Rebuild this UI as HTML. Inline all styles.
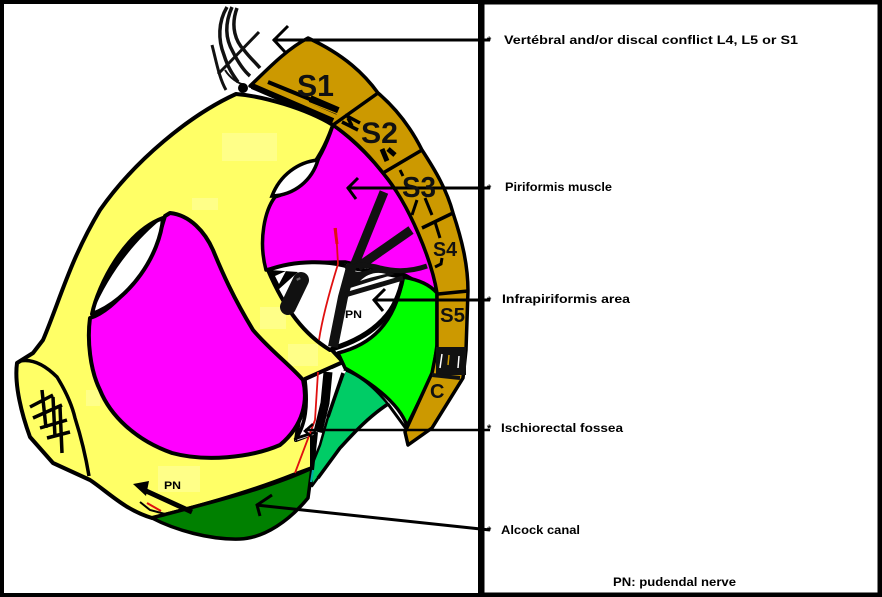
<!DOCTYPE html>
<html><head><meta charset="utf-8"><style>
html,body{margin:0;padding:0;background:#fff}
svg{display:block}
.t{font-family:"Liberation Sans",sans-serif;font-weight:bold;font-size:11.5px;fill:#000}
.s{font-family:"Liberation Sans",sans-serif;font-weight:bold;fill:#111}
</style></head><body>
<svg width="882" height="597" viewBox="0 0 882 597" xmlns="http://www.w3.org/2000/svg">
<rect width="882" height="597" fill="#fff"/>

<!-- yellow hip bone -->
<path d="M236,94 C262,96 305,108 333,125 C326,145 318,160 305,175 C285,190 268,205 265,232 C262,262 285,300 330,348 L343,362 L305,379 L296,440 L312,434 L312,468 L293,475 C250,492 205,505 152,518 C125,510 108,492 90,480 L53,463 L30,437 C22,415 14,385 17,363 L33,353 L43,340 C60,300 70,260 100,210 C135,160 190,115 236,94 Z" fill="#ffff66" stroke="#000" stroke-width="4" stroke-linejoin="round"/>
<g fill="#ffff88">
<rect x="222" y="133" width="55" height="28"/><rect x="192" y="198" width="26" height="12"/>
<rect x="260" y="307" width="26" height="22"/><rect x="288" y="344" width="30" height="22"/>
<rect x="158" y="466" width="42" height="26"/><rect x="86" y="390" width="14" height="16"/>
</g>

<!-- lobe -->
<path d="M20,361 C35,358 48,368 57,377 C65,390 72,405 75,418 C82,440 86,458 89,476" fill="none" stroke="#000" stroke-width="3.5"/>
<g stroke="#000" stroke-width="3.5" fill="none">
<path d="M30,407 L53,395 M33,418 L62,405 M40,428 L67,420 M47,438 L70,432 M42,390 L46,428 M53,397 L55,437 M60,407 L62,453"/>
</g>

<!-- obturator magenta -->
<path d="M170,213 C190,215 205,232 213,250 C222,272 233,297 253,330 C270,350 290,365 303,380 C308,400 304,425 280,445 C250,458 205,462 172,453 C135,440 110,415 100,390 C90,370 87,340 90,318 C115,310 150,270 165,216 Z" fill="#ff00ff" stroke="#000" stroke-width="4" stroke-linejoin="round"/>
<path d="M92,314 C98,285 125,232 163,218 C160,255 130,300 92,314 Z" fill="#fff" stroke="#000" stroke-width="4" stroke-linejoin="round"/>
<path d="M93,312 C100,280 130,230 163,218 C135,240 108,275 93,312 Z" fill="#000"/>

<!-- piriformis magenta -->
<path d="M333,125 C375,155 425,215 437,293 L405,275 L345,262 C315,262 285,265 266,270 C258,240 265,210 275,197 C300,190 320,165 333,125 Z" fill="#ff00ff" stroke="#000" stroke-width="3.5" stroke-linejoin="round"/>
<path d="M272,196 C280,175 298,162 318,160 C312,180 295,195 272,196 Z" fill="#fff" stroke="#000" stroke-width="3.5"/>

<!-- white infrapiriformis -->
<path d="M268,270 C295,260 330,260 352,268 L403,277 C398,310 375,335 333,348 L330,350 C305,335 285,310 268,270 Z" fill="#fff" stroke="#000" stroke-width="4" stroke-linejoin="round"/>
<path d="M270,270 L278,290 L298,272 Z" fill="#000"/>
<path d="M275,276 L286,271 L279,284 Z" fill="#fff"/>
<path d="M301,280 L288,307" stroke="#111" stroke-width="16" stroke-linecap="round"/>
<path d="M298,278 L299,280" stroke="#666" stroke-width="4"/>

<!-- green -->
<path d="M403,277 C420,280 430,285 437,293 L437,345 L433,373 L407,426 C400,405 375,385 345,368 L338,353 C370,345 395,325 403,277 Z" fill="#00ff00" stroke="#000" stroke-width="3.5" stroke-linejoin="round"/>
<path d="M333,349 C368,338 395,320 403,277" fill="none" stroke="#000" stroke-width="4.5"/>

<!-- teal -->
<path d="M345,370 C365,378 378,392 388,404 C367,418 352,435 340,448 L312,486 L310,470 L320,445 L328,417 Z" fill="#00cc66" stroke="#000" stroke-width="2.5" stroke-linejoin="round"/>
<path d="M388,404 L407,430" stroke="#000" stroke-width="3"/>
<path d="M388,404 C367,418 352,435 340,448 L318,478" fill="none" stroke="#000" stroke-width="3.5"/>

<!-- white strip -->
<path d="M306,381 L332,369 L346,371 L326,412 L316,434 L295,441 C303,425 309,405 306,381 Z" fill="#fff"/>
<path d="M305,380 C308,405 306,425 295,440" fill="none" stroke="#000" stroke-width="3.5"/>
<path d="M328,372 L325,403 L318,432" stroke="#000" stroke-width="9" fill="none"/>
<path d="M343,373 L328,417" stroke="#000" stroke-width="3.5" fill="none"/>
<path d="M297,438 L316,432" stroke="#000" stroke-width="3"/>
<path d="M316,432 L312,470" stroke="#000" stroke-width="4"/>

<!-- dark green -->
<path d="M152,518 C200,505 265,490 312,468 L308,498 C290,520 265,538 240,539 C210,540 175,530 152,518 Z" fill="#008000" stroke="#000" stroke-width="3.5" stroke-linejoin="round"/>
<path d="M313,470 L311,482" stroke="#00aaaa" stroke-width="2"/>

<!-- sacrum -->
<path d="M308,38 C345,55 365,75 378,93 C398,110 412,130 422,150 C435,170 447,190 453,213 C462,240 468,265 468,291 L466,350 L463,378 L432,428 L408,445 L405,432 L432,373 L437,348 L437,293 C432,262 410,205 383,173 C365,150 350,137 333,125 C310,110 280,95 250,86 C265,72 285,50 308,38 Z" fill="#cc9900" stroke="#000" stroke-width="3.5" stroke-linejoin="round"/>
<path d="M378,93 L333,125 M422,150 L383,173 M453,213 L422,228 M468,291 L438,294" stroke="#000" stroke-width="3.5" fill="none"/>
<rect x="436" y="347" width="30" height="28" fill="#111"/>
<path d="M442,354 L440,368 M459,356 L458,368" stroke="#fff" stroke-width="1.5"/>
<path d="M449,355 L448,365" stroke="#cc9900" stroke-width="1.5"/>
<path d="M432,375 L460,378" stroke="#111" stroke-width="4"/>

<!-- S1 bars -->
<path d="M268,82 L312,100" stroke="#000" stroke-width="4"/>
<path d="M310,99 L338,111" stroke="#000" stroke-width="8"/>
<path d="M252,86 L333,121" stroke="#000" stroke-width="6"/>
<path d="M262,84 L338,114" stroke="#cc9900" stroke-width="1"/>
<path d="M345,115 L360,123 M342,122 L358,130 M348,118 L352,126 M352,127 L358,130" stroke="#000" stroke-width="3.5"/>
<path d="M382,149 L387,161 M388,149 L395,155" stroke="#000" stroke-width="5"/>
<path d="M400,170 L403,176 M417,200 L412,215 M425,198 L432,215 M435,222 L440,238 M442,258 L441,264 L435,267" stroke="#000" stroke-width="3" fill="none"/>

<!-- nerve roots -->
<g fill="none" stroke="#111" stroke-width="3.5">
<path d="M227,7 C218,22 218,40 224,55 C228,68 233,75 238,82"/>
<path d="M232,7 C224,25 226,40 233,52 C238,62 243,70 250,76"/>
<path d="M237,8 C230,27 236,42 244,50 C250,58 255,62 260,68"/>
<path d="M259,32 L228,64 L218,74" stroke-width="3"/>
<path d="M212,45 C216,60 219,78 226,90" stroke-width="3"/>
<path d="M225,70 C230,78 238,84 246,85" stroke-width="2"/>
</g>
<circle cx="243" cy="88" r="5" fill="#000"/>

<!-- black nerve trunks -->
<g stroke="#111" stroke-linecap="butt" fill="none">
<path d="M384,192 L354,266" stroke-width="9"/>
<path d="M411,230 L358,267" stroke-width="9"/>
<path d="M427,266 C410,272 395,272 380,268 C370,265 358,264 345,268" stroke-width="5"/>
<path d="M352,264 L343,297 L333,347" stroke-width="10"/>
<path d="M345,295 L403,278" stroke-width="5"/>
</g>
<path d="M345,270 L360,272 L378,268 L395,274 L350,288 Z" fill="#111"/>
<path d="M360,281 C367,274 376,271 386,274 C377,276 368,278 360,281 Z" fill="#fff"/>

<!-- red nerve -->
<path d="M336,228 L338,264 C330,290 322,320 319,340 M318,372 L315,420 L295,473" fill="none" stroke="#e01010" stroke-width="1.8"/>
<path d="M335,228 L337,244" stroke="#e01010" stroke-width="3"/>
<path d="M147,503 L161,511" stroke="#e01010" stroke-width="2"/>

<!-- PN arrow bottom -->
<path d="M133,484 L149,481 L146,496 Z" fill="#000"/>
<path d="M144,490 L192,512" stroke="#000" stroke-width="5"/>
<path d="M140,502 L150,510 L165,514" stroke="#000" stroke-width="2" fill="none"/>

<!-- leader arrows -->
<g fill="none" stroke="#000" stroke-width="3">
<path d="M273,40 L490,40 M288,26 L274,40 L285,52"/>
<path d="M347,188 L490,188 M358,178 L348,188 L356,199"/>
<path d="M373,300 L490,300 M385,289 L374,300 L383,311"/>
<path d="M305,430 L490,430 M313,424 L305,431 L313,438" stroke-width="2.5"/>
<path d="M256,505 L490,530 M272,495 L257,505 L260,516"/>
</g>
<g font-family="Liberation Sans, sans-serif" font-weight="bold" font-size="11" fill="#000">
<text x="487" y="44">*</text><text x="487" y="192">*</text><text x="487" y="304">*</text><text x="487" y="432">*</text><text x="487" y="534">*</text>
</g>

<!-- S labels -->
<text class="s" x="297" y="96" font-size="31" textLength="37" lengthAdjust="spacingAndGlyphs">S1</text>
<text class="s" x="361" y="143" font-size="30" textLength="37" lengthAdjust="spacingAndGlyphs">S2</text>
<text class="s" x="402" y="197" font-size="29" textLength="34" lengthAdjust="spacingAndGlyphs">S3</text>
<text class="s" x="433" y="256" font-size="20" textLength="24" lengthAdjust="spacingAndGlyphs">S4</text>
<text class="s" x="440" y="322" font-size="20" textLength="25" lengthAdjust="spacingAndGlyphs">S5</text>
<text class="s" x="430" y="398" font-size="20">C</text>
<text x="345" y="318" font-family="Liberation Sans, sans-serif" font-size="11" font-weight="bold" textLength="17" lengthAdjust="spacingAndGlyphs">PN</text>
<text x="164" y="489" font-family="Liberation Sans, sans-serif" font-size="11" font-weight="bold" textLength="17" lengthAdjust="spacingAndGlyphs">PN</text>

<!-- text labels -->
<text class="t" x="504" y="44" textLength="294" lengthAdjust="spacingAndGlyphs">Vertébral and/or discal conflict L4, L5 or S1</text>
<text class="t" x="505" y="191" textLength="107" lengthAdjust="spacingAndGlyphs">Piriformis muscle</text>
<text class="t" x="502" y="303" textLength="128" lengthAdjust="spacingAndGlyphs">Infrapiriformis area</text>
<text class="t" x="501" y="432" textLength="122" lengthAdjust="spacingAndGlyphs">Ischiorectal fossea</text>
<text class="t" x="501" y="534" textLength="79" lengthAdjust="spacingAndGlyphs">Alcock canal</text>
<text class="t" x="613" y="586" textLength="123" lengthAdjust="spacingAndGlyphs">PN: pudendal nerve</text>

<!-- frames -->
<rect x="2" y="2" width="478" height="593" fill="none" stroke="#000" stroke-width="4"/>
<rect x="482" y="2" width="398" height="593" fill="none" stroke="#000" stroke-width="5"/>
</svg>
</body></html>
